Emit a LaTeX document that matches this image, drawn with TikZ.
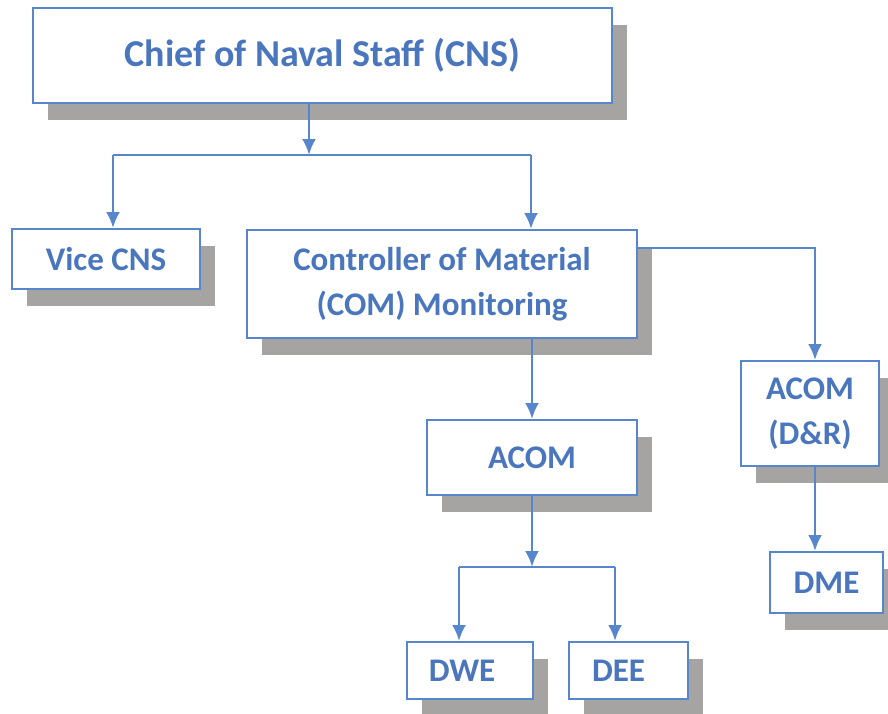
\documentclass[tikz,border=0pt]{standalone}
\usepackage{fontspec}
\setmainfont{Carlito}
\usetikzlibrary{arrows.meta,shadows}
\definecolor{txtblue}{RGB}{74,118,190}
\definecolor{lnblue}{RGB}{88,134,204}
\definecolor{shadowgray}{RGB}{166,164,162}
\tikzset{
  box/.style={draw=lnblue, line width=2pt, fill=white, rectangle, inner sep=0pt,
    text=txtblue, font=\bfseries\fontsize{33}{45}\selectfont, align=center,
    drop shadow={shadow xshift=15pt, shadow yshift=-17pt, fill=shadowgray, opacity=1}},
  conn/.style={draw=lnblue, line width=2.6pt},
  arr/.style={conn, -{Latex[length=16pt,width=14pt]}}
}
\begin{document}
\begin{tikzpicture}[x=1pt,y=-1pt]
\useasboundingbox (0,0) rectangle (888,713);
\clip (0,0) rectangle (888,713);
\node[box, minimum width=579pt, minimum height=95pt, font=\bfseries\fontsize{38}{44}\selectfont] (cns) at (322.5,55.5) {Chief of Naval Staff (CNS)};
\node[box, minimum width=188pt, minimum height=60pt] (vice) at (106,259) {Vice CNS};
\node[box, minimum width=390pt, minimum height=108pt] (com) at (442,284) {Controller of Material\\(COM) Monitoring};
\node[box, minimum width=210pt, minimum height=75pt] (acom) at (532,457.5) {ACOM};
\node[box, minimum width=138pt, minimum height=105pt] (acomdr) at (810,413.5) {ACOM\\(D\&R)};
\node[box, minimum width=113pt, minimum height=61pt] (dme) at (826.5,582.5) {DME};
\node[box, minimum width=126pt, minimum height=57pt] (dwe) at (470,670.5) {DWE\hspace*{16pt}};
\node[box, minimum width=119pt, minimum height=57pt] (dee) at (628.5,670.5) {DEE\hspace*{20pt}};
% connectors
\coordinate (b1) at (309,155);
\coordinate (bl) at (113,155);
\coordinate (br) at (531,155);
\draw[arr] (cns.south -| b1) -- (b1);
\draw[conn] (bl) -- (br);
\draw[arr] (bl) -- (vice.north -| bl);
\draw[arr] (br) -- (com.north -| br);
\coordinate (k1) at (815,248);
\draw[arr] (com.east |- k1) -- (k1) -- (acomdr.north -| k1);
\draw[arr] (acom.north |- com.south) -- (acom.north);
\coordinate (b2) at (532,567);
\coordinate (b2l) at (459,567);
\coordinate (b2r) at (615,567);
\draw[arr] (acom.south) -- (b2);
\draw[conn] (b2l) -- (b2r);
\draw[arr] (b2l) -- (dwe.north -| b2l);
\draw[arr] (b2r) -- (dee.north -| b2r);
\draw[arr] (acomdr.south -| k1) -- (dme.north -| k1);
\end{tikzpicture}
\end{document}
